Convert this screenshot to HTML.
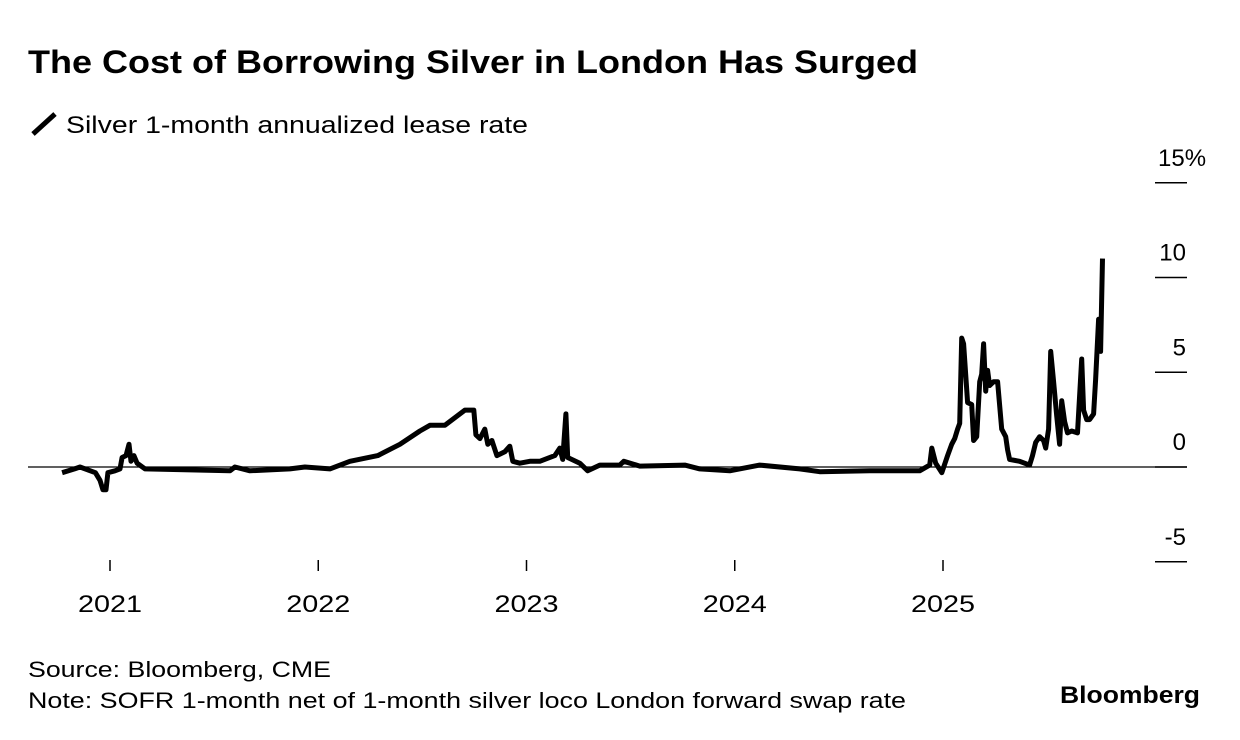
<!DOCTYPE html>
<html><head><meta charset="utf-8"><style>
body{margin:0;background:#fff;font-family:"Liberation Sans",sans-serif;color:#000}
.wrap{position:relative;width:1240px;height:740px;overflow:hidden}
</style></head><body><div class="wrap">
<svg width="1240" height="740">
<text x="28" y="73" font-size="32" font-weight="bold" textLength="890" lengthAdjust="spacingAndGlyphs">The Cost of Borrowing Silver in London Has Surged</text>
<line x1="33" y1="134" x2="55" y2="114" stroke="#000" stroke-width="5"/>
<text x="66" y="133" font-size="24" textLength="462" lengthAdjust="spacingAndGlyphs">Silver 1-month annualized lease rate</text>
<g id="yaxis"></g>
<g id="xaxis"></g>
<path id="line" fill="none" stroke="#000" stroke-width="5" stroke-linejoin="round"/>
<text x="28" y="677" font-size="22" textLength="303" lengthAdjust="spacingAndGlyphs">Source: Bloomberg, CME</text>
<text x="28" y="708" font-size="22" textLength="878" lengthAdjust="spacingAndGlyphs">Note: SOFR 1-month net of 1-month silver loco London forward swap rate</text>
<text x="1060" y="703" font-size="24" font-weight="bold" textLength="140" lengthAdjust="spacingAndGlyphs">Bloomberg</text>
</svg></div>
<script>
const dates=[2020.77,2020.83,2020.856,2020.93,2020.952,2020.966,2020.981,2020.99,2021.024,2021.048,2021.058,2021.077,2021.091,2021.101,2021.115,2021.13,2021.168,2021.576,2021.6,2021.672,2021.864,2021.936,2022.056,2022.152,2022.286,2022.392,2022.488,2022.536,2022.608,2022.704,2022.747,2022.757,2022.776,2022.8,2022.814,2022.834,2022.858,2022.896,2022.92,2022.934,2022.968,2023.016,2023.064,2023.136,2023.16,2023.174,2023.189,2023.198,2023.256,2023.294,2023.352,2023.448,2023.467,2023.544,2023.76,2023.832,2023.976,2024.12,2024.312,2024.408,2024.648,2024.888,2024.936,2024.946,2024.965,2024.994,2025.022,2025.042,2025.056,2025.07,2025.08,2025.09,2025.099,2025.118,2025.138,2025.147,2025.162,2025.176,2025.186,2025.195,2025.205,2025.214,2025.224,2025.243,2025.262,2025.282,2025.301,2025.31,2025.32,2025.368,2025.416,2025.43,2025.445,2025.464,2025.483,2025.493,2025.507,2025.517,2025.531,2025.546,2025.56,2025.57,2025.584,2025.598,2025.618,2025.646,2025.666,2025.675,2025.69,2025.704,2025.723,2025.733,2025.747,2025.757,2025.766];
const rates=[-0.3,-0.1,0,-0.3,-0.7,-1.2,-1.2,-0.3,-0.2,-0.1,0.5,0.6,1.2,0.3,0.6,0.2,-0.1,-0.2,0,-0.2,-0.1,0,-0.1,0.3,0.6,1.2,1.9,2.2,2.2,3.0,3.0,1.7,1.5,2.0,1.2,1.4,0.6,0.8,1.1,0.3,0.2,0.3,0.3,0.6,1.0,0.4,2.8,0.5,0.2,-0.2,0.1,0.1,0.3,0.05,0.1,-0.1,-0.2,0.1,-0.1,-0.25,-0.2,-0.2,0.1,1.0,0.2,-0.3,0.6,1.2,1.5,2.0,2.3,6.8,6.5,3.4,3.3,1.4,1.6,4.5,4.9,6.5,4.0,5.1,4.3,4.5,4.5,2.0,1.6,0.9,0.4,0.3,0.1,0.6,1.3,1.6,1.4,1.0,2.0,6.1,4.5,2.7,1.2,3.5,2.4,1.8,1.9,1.8,5.7,3.0,2.5,2.5,2.8,4.6,7.8,6.1,11.0];
const yTicks=[15,10,5,0,-5];
const yLabels=["15%","10","5","0","-5"];
const xTicks=[2021,2022,2023,2024,2025];
const NS="http://www.w3.org/2000/svg";
const xs=t=>110+(t-2021)*208.25;
const ys=v=>467-v*18.95;
const ya=document.getElementById('yaxis');
yTicks.forEach((v,i)=>{
  const l=document.createElementNS(NS,'line');
  
  
  l.setAttribute('x1',1155);l.setAttribute('x2',1187);l.setAttribute('y1',ys(v));l.setAttribute('y2',ys(v));
  l.setAttribute('stroke','#000');l.setAttribute('stroke-width',1.5);ya.appendChild(l);
  const t=document.createElementNS(NS,'text');
  
  
  t.setAttribute('x',1186);t.setAttribute('y',ys(v)-17);t.setAttribute('text-anchor','end');t.setAttribute('font-size',24);
  if(i===0){t.setAttribute('x',1158);t.setAttribute('text-anchor','start');}
  t.textContent=yLabels[i];ya.appendChild(t);
});
const z=document.createElementNS(NS,'line');


z.setAttribute('x1',28);z.setAttribute('x2',1187);z.setAttribute('y1',ys(0));z.setAttribute('y2',ys(0));
z.setAttribute('stroke','#000');z.setAttribute('stroke-width',1.3);ya.appendChild(z);
const xa=document.getElementById('xaxis');
xTicks.forEach(v=>{
  const l=document.createElementNS(NS,'line');
  
  
  l.setAttribute('x1',xs(v));l.setAttribute('x2',xs(v));l.setAttribute('y1',560);l.setAttribute('y2',571);
  l.setAttribute('stroke','#000');l.setAttribute('stroke-width',1.5);xa.appendChild(l);
  const t=document.createElementNS(NS,'text');
  
  
  t.setAttribute('x',xs(v));t.setAttribute('y',612);t.setAttribute('text-anchor','middle');t.setAttribute('font-size',24);
  t.setAttribute('textLength',64);t.setAttribute('lengthAdjust','spacingAndGlyphs');
  t.textContent=v;xa.appendChild(t);
});
document.getElementById('line').setAttribute('d',dates.map((d,i)=>(i?'L':'M')+xs(d).toFixed(1)+','+ys(rates[i]).toFixed(1)).join(''));
</script></body></html>
